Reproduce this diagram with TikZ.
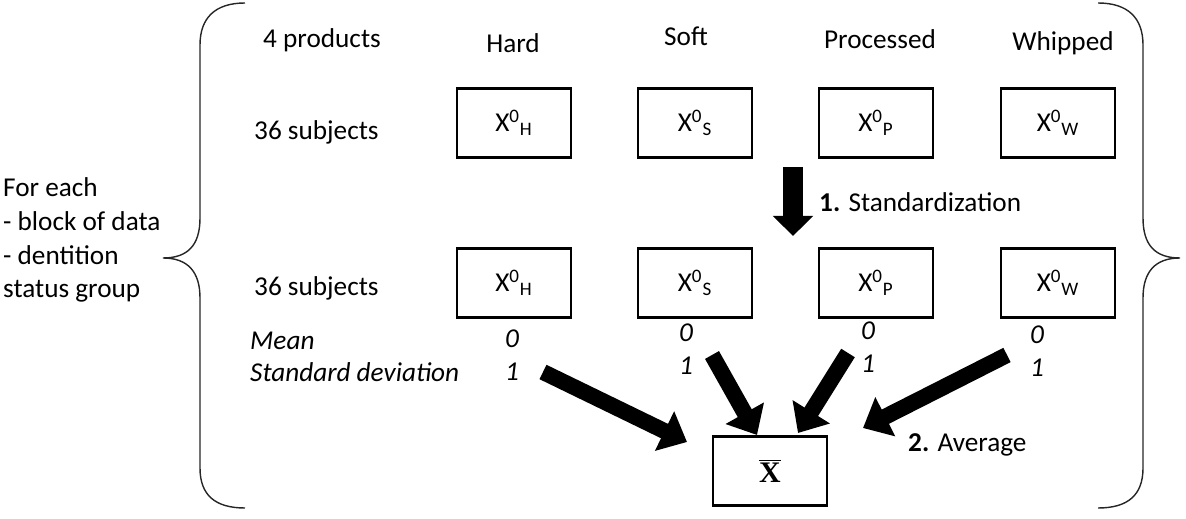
\documentclass[tikz,border=0pt]{standalone}
\usepackage{fontspec}
\setmainfont{Carlito}
\newfontfamily\xbarfont{Liberation Serif}
\usetikzlibrary{arrows.meta}

\begin{document}
\begin{tikzpicture}[x=0.02cm, y=-0.02cm,
        font=\fontsize{15.5}{19.3}\selectfont,
        box/.style={draw, line width=1.3pt, minimum width=2.28cm, minimum height=1.38cm, inner sep=0pt},
        stat/.style={font=\fontsize{15.5}{19.3}\selectfont\itshape},
        brace/.style={line width=0.8pt, black!85},
        bigarrow/.style={line width=0.32cm, -{Triangle[length=0.5cm, width=0.85cm]}}]
        \useasboundingbox (0,0) rectangle (1186,519);

        % Header row
        \node[anchor=base] (products) at (322,48) {4 products};
        \node[anchor=base] (hard) at (513,53) {Hard};
        \node[anchor=base] (soft) at (686,46) {Soft};
        \node[anchor=base] (processed) at (880,49) {Processed};
        \node[anchor=base] (whipped) at (1063,51) {Whipped};
        \node[anchor=base west] (subj1) at (248,140) {36 subjects};
        \node[anchor=base west] (subj2) at (248,296) {36 subjects};

        % Data blocks before and after standardization
        \foreach \p/\x/\s in {h/514/H, s/695/S, p/876/P, w/1058/W} {
            \node[box] (\p1) at (\x,123) {X\textsuperscript{0}\textsubscript{\s}};
            \node[box] (\p2) at (\x,283) {X\textsuperscript{0}\textsubscript{\s}};
        }

        % Mean and standard deviation
        \node[stat, anchor=base west] (mean) at (244,350) {Mean};
        \node[stat, anchor=base west] (sd) at (244,382) {Standard deviation};
        \foreach \p/\x/\y in {h/512/339, s/686/333, p/868/331, w/1037/335} {
            \node[stat] (\p0) at (\x,\y) {0};
            \node[stat] (\p1sd) at (\x,\y+33) {1};
        }

        % Average
        \node[box] (xbar) at (770,471) {$\overline{\hbox{\xbarfont\bfseries\fontsize{17}{20}\selectfont X}}$};
        \node[anchor=base west] (avg) at (902,452) {\textbf{2.} Average};

        % Step 1
        \coordinate (s1) at (793,167);
        \coordinate (s2) at (793,236);
        \draw[line width=0.4cm, -{Triangle[length=0.4cm, width=0.78cm]}] (s1) -- (s2);
        \node[anchor=west] (std) at (813,202) {\textbf{1.} Standardization};

        % Step 2
        \coordinate (ht) at (543,372);
        \coordinate (hh) at (687,442);
        \coordinate (st) at (712,355);
        \coordinate (sh) at (757,435);
        \coordinate (pt) at (848,353);
        \coordinate (ph) at (798,433);
        \coordinate (wt) at (1007,355);
        \coordinate (wh) at (863,428);
        \foreach \p in {h, s, p, w} \draw[bigarrow] (\p t) -- (\p h);

        % Braces
        \draw[brace] (245,3) .. controls (215,3) and (200,18) .. (200,45) -- (200,218)
            .. controls (200,245) and (188,258) .. (163,258)
            .. controls (188,258) and (200,272) .. (200,298) -- (200,468)
            .. controls (200,495) and (215,508) .. (245,508);
        \draw[brace] (1098,3) .. controls (1128,3) and (1143,18) .. (1143,45) -- (1143,218)
            .. controls (1143,245) and (1155,258) .. (1180,258)
            .. controls (1155,258) and (1143,272) .. (1143,298) -- (1143,468)
            .. controls (1143,495) and (1128,508) .. (1098,508);
        \node[anchor=west, align=left] (each) at (-3,240) {For each\\- block of data\\- dentition\\status group};
    \end{tikzpicture}
\end{document}
